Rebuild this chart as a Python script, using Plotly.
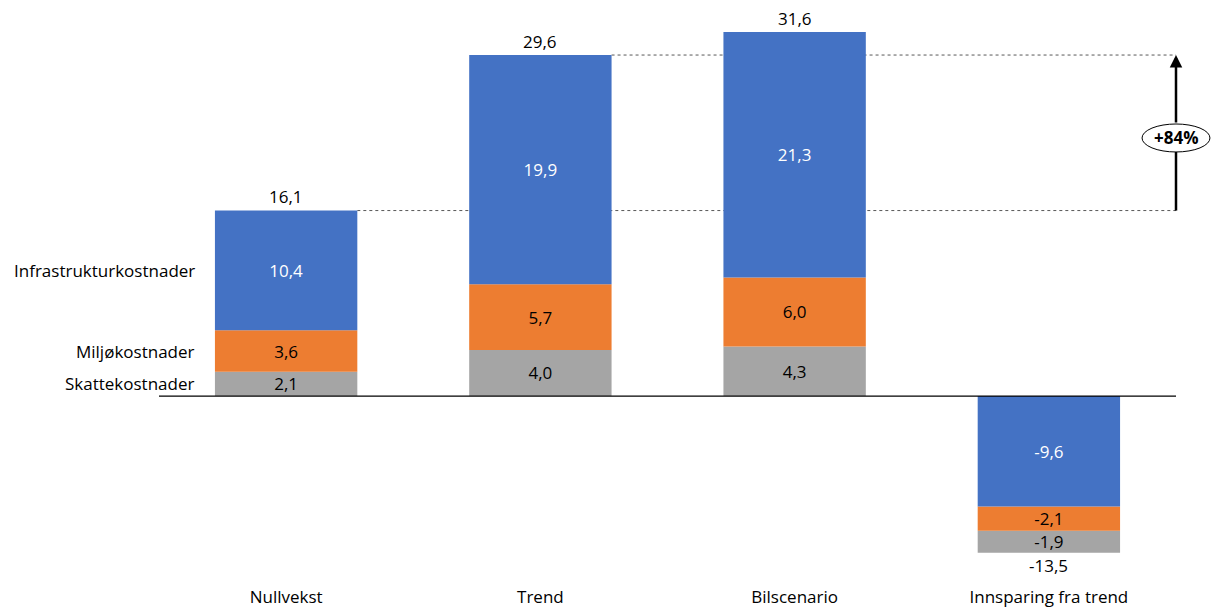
import numpy as np
import plotly.graph_objects as go

# Scenario categories and cost components (billion NOK)
categories = ["Nullvekst", "Trend", "Bilscenario", "Innsparing fra trend"]
series_names = ["Skattekostnader", "Miljøkostnader", "Infrastrukturkostnader"]
skatte = [2.1, 4.0, 4.3, -1.9]
miljo = [3.6, 5.7, 6.0, -2.1]
infra = [10.4, 19.9, 21.3, -9.6]
totals = [16.1, 29.6, 31.6, -13.5]
growth_label = "+84%"

colors = ["#A5A5A5", "#ED7D31", "#4472C4"]
text_colors = ["black", "black", "white"]
FONT = "Open Sans"
FS = 17

# axis ranges chosen so that 1 unit is ~11.5 px
Y_MIN, Y_MAX = -16.23, 33.51
X_MIN, X_MAX = -0.5, 3.5
BAR_W = 0.56

values = np.array([skatte, miljo, infra], dtype=float)

# Positive stacks build grey -> orange -> blue upward;
# negative stacks build blue -> orange -> grey downward.
bases = np.zeros_like(values)
for j in range(values.shape[1]):
    col = values[:, j]
    order = [0, 1, 2] if col.sum() >= 0 else [2, 1, 0]
    acc = 0.0
    for i in order:
        bases[i, j] = acc
        acc += col[i]

def fmt(v):
    return f"{v:.1f}".replace(".", ",")

def py(v):
    return (v - Y_MIN) / (Y_MAX - Y_MIN)

fig = go.Figure()
for i, name in enumerate(series_names):
    fig.add_trace(go.Bar(
        x=categories, y=values[i], base=bases[i], name=name,
        width=BAR_W, marker=dict(color=colors[i], line=dict(width=0)),
        text=[fmt(v) for v in values[i]], textposition="inside",
        insidetextanchor="middle", textangle=0,
        textfont=dict(color=text_colors[i], size=FS, family=FONT),
        hoverinfo="skip", showlegend=False,
    ))

# totals above (or below) each stack
for cat, t in zip(categories, totals):
    fig.add_annotation(x=cat, y=t, xref="x", yref="y", text=fmt(t),
                       showarrow=False, yanchor="middle",
                       yshift=14 if t >= 0 else -14,
                       font=dict(size=FS, family=FONT, color="black"))

# component names beside the first stack
for i, name in enumerate(series_names):
    mid = bases[i, 0] + values[i, 0] / 2
    fig.add_annotation(x=-0.35, y=mid, xref="x", yref="y", text=name,
                       showarrow=False, xanchor="right", yanchor="middle",
                       font=dict(size=FS, family=FONT, color="black"))

shapes = []
# zero line
shapes.append(dict(type="line", xref="paper", yref="y", x0=0, x1=1, y0=0, y1=0,
                   line=dict(color="black", width=1.3), layer="above"))
# dotted reference lines from Nullvekst and Trend totals
for k in (0, 1):
    shapes.append(dict(type="line", xref="x", yref="y",
                       x0=k + BAR_W / 2, x1=X_MAX, y0=totals[k], y1=totals[k],
                       line=dict(color="#595959", width=1, dash="dot"), layer="below"))

# growth indicator: vertical arrow with an oval label
lab_y = 22.4
ell_h = 2.43
shapes.append(dict(type="line", xref="paper", yref="paper", x0=1.0, x1=1.0,
                   y0=py(totals[0]), y1=py(lab_y - ell_h / 2),
                   line=dict(color="black", width=2.5)))
shapes.append(dict(type="circle", xref="paper", yref="paper",
                   x0=0.9666, x1=1.0334, y0=py(lab_y - ell_h / 2), y1=py(lab_y + ell_h / 2),
                   line=dict(color="black", width=1), fillcolor="white", layer="above"))
fig.add_annotation(x=X_MAX, y=totals[1], ax=X_MAX, ay=lab_y + ell_h / 2,
                   xref="x", yref="y", axref="x", ayref="y", text="",
                   showarrow=True, arrowhead=2, arrowsize=1, arrowwidth=2.5,
                   arrowcolor="black", standoff=0, startstandoff=0)
fig.add_annotation(x=X_MAX, y=lab_y, xref="x", yref="y", text=f"<b>{growth_label}</b>",
                   showarrow=False, font=dict(size=FS, family=FONT, color="black"))

fig.update_layout(
    width=1213, height=607,
    margin=dict(l=159, r=37, t=10, b=24, autoexpand=False),
    barmode="overlay",
    plot_bgcolor="white", paper_bgcolor="white",
    shapes=shapes,
    uniformtext=dict(minsize=FS, mode="show"),
    xaxis=dict(range=[X_MIN, X_MAX], showgrid=False, zeroline=False, showline=False,
               ticks="", automargin=False, ticklabelstandoff=2,
               tickfont=dict(size=FS, family=FONT, color="black")),
    yaxis=dict(range=[Y_MIN, Y_MAX], visible=False, showgrid=False, zeroline=False),
    font=dict(family=FONT, size=FS, color="black"),
)

fig.write_html("out.html")
